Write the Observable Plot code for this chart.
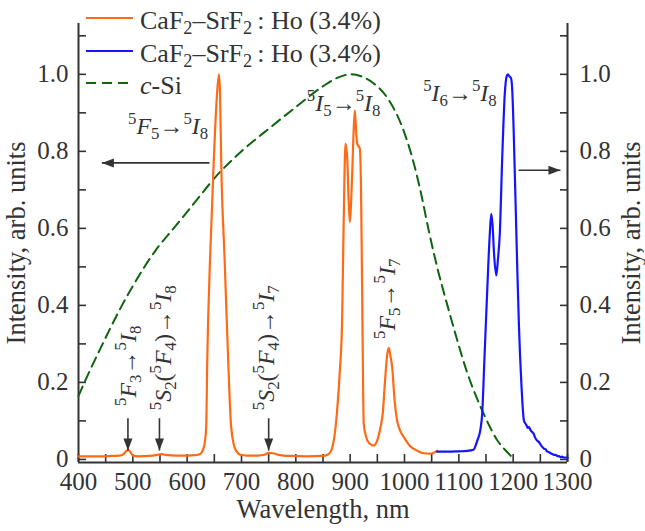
<!DOCTYPE html>
<html>
<head>
<meta charset="utf-8">
<script src="https://cdn.jsdelivr.net/npm/d3@7"></script>
<script src="https://cdn.jsdelivr.net/npm/@observablehq/plot@0.6"></script>
<style>
  body { margin: 0; background: #fff; }
  #chart { position: relative; width: 645px; height: 531px; font-family: "Liberation Serif", "DejaVu Serif", serif; color: #333; }
  #chart svg { display: block; }
  .legend-row { position: absolute; left: 86px; height: 32px; display: flex; align-items: center; font-size: 26px; line-height: 32px; white-space: nowrap; color: #333; }
  .legend-row .lbl { position: relative; top: 3px; margin-left: 7px; }
  .legend-row sub { font-size: 70%; vertical-align: -0.28em; line-height: 0; }
  .legend-row i { font-style: italic; }
</style>
</head>
<body>
<div id="chart"></div>
<script>
// Luminescence of CaF2–SrF2:Ho (3.4%), visible / near-IR detector (wavelength in nm, normalized intensity)
const visNm = [400, 420, 440, 460, 475, 483, 488, 492, 496, 500, 510, 530, 545, 552, 560, 580, 600, 615, 624, 629,
  632, 635, 637, 642, 649, 655, 658.5, 660.5, 662.6, 669, 675.5, 681, 689, 698, 710, 730, 742, 750, 758, 768,
  790, 820, 850, 858, 863, 867, 872, 876, 881, 885, 888, 891.4, 894.5, 897, 899.4, 901.5, 903.7, 906, 908.6, 911,
  913, 917.8, 920, 922, 925, 929, 935, 943.5, 950, 955.9, 960, 964, 968, 971, 974, 977.3, 982, 986.5, 992, 998.8,
  1010, 1023, 1035, 1048, 1060];
const visI = [0.008, 0.008, 0.008, 0.009, 0.010, 0.014, 0.022, 0.024, 0.018, 0.010, 0.008, 0.009, 0.012, 0.014, 0.012, 0.010, 0.010, 0.011, 0.014, 0.025,
  0.04, 0.084, 0.257, 0.517, 0.777, 0.95, 1.0, 0.95, 0.777, 0.517, 0.257, 0.084, 0.025, 0.012, 0.010, 0.010, 0.012, 0.017, 0.016, 0.012,
  0.009, 0.008, 0.009, 0.012, 0.018, 0.03, 0.07, 0.127, 0.23, 0.35, 0.61, 0.82, 0.785, 0.68, 0.616, 0.66, 0.74, 0.84, 0.906, 0.85,
  0.82, 0.807, 0.7, 0.44, 0.093, 0.06, 0.042, 0.036, 0.05, 0.084, 0.12, 0.2, 0.27, 0.29, 0.27, 0.24, 0.15, 0.1, 0.075, 0.058,
  0.035, 0.023, 0.016, 0.015, 0.023];

// Same sample, InGaAs detector range
const nirNm = [1060, 1080, 1100, 1115, 1127, 1134, 1140, 1143, 1147, 1152, 1157, 1159.6, 1162, 1165, 1169, 1172, 1175.4, 1179.7, 1184.6, 1188,
  1190, 1193, 1196, 1198, 1201, 1204, 1207.5, 1210.7, 1215, 1219.8, 1224, 1227, 1229, 1232, 1235, 1238, 1240, 1244, 1248, 1252,
  1256.5, 1260, 1262, 1266, 1268.8, 1272, 1275, 1278, 1281, 1285, 1287, 1290, 1293, 1296, 1300];
const nirI = [0.02, 0.02, 0.021, 0.022, 0.025, 0.049, 0.08, 0.119, 0.257, 0.43, 0.586, 0.638, 0.61, 0.53, 0.478, 0.52, 0.586, 0.777, 0.95, 0.995,
  1.0, 0.995, 0.99, 0.967, 0.85, 0.69, 0.5, 0.343, 0.2, 0.101, 0.09, 0.082, 0.084, 0.076, 0.071, 0.066, 0.058, 0.049, 0.044, 0.035,
  0.028, 0.026, 0.021, 0.019, 0.016, 0.014, 0.012, 0.012, 0.009, 0.008, 0.006, 0.007, 0.005, 0.005, 0.004];

// Spectral response of a crystalline silicon cell
const siNm = [400, 420, 440, 460, 480, 500, 520, 542, 575, 600, 625, 650, 700, 753, 800, 851, 875, 900, 920,
  943, 968, 998, 1015, 1029, 1045, 1060, 1079, 1097, 1115, 1130, 1143, 1157, 1171, 1185, 1198];
const siR = [0.165, 0.228, 0.287, 0.345, 0.4, 0.45, 0.497, 0.543, 0.6, 0.643, 0.687, 0.73, 0.8, 0.862, 0.915, 0.97, 0.99, 1.0, 0.995,
  0.977, 0.94, 0.855, 0.78, 0.7, 0.592, 0.5, 0.4, 0.31, 0.227, 0.17, 0.127, 0.085, 0.049, 0.025, 0.006];

// Axis ticks and titles
const xTickLabels = [400, 500, 600, 700, 800, 900, 1000, 1100, 1200, 1300];
const xTickMarks = [400, 450, 500, 550, 600, 650, 700, 750, 800, 850, 900, 950, 1000, 1050, 1100, 1150, 1200, 1250, 1300];
const yTickLabels = [0, 0.2, 0.4, 0.6, 0.8, 1.0];
const yTickMarks = [0, 0.1, 0.2, 0.3, 0.4, 0.5, 0.6, 0.7, 0.8, 0.9, 1.0, 1.1];
const xDomain = [400, 1300];
const yDomain = [-0.008, 1.132];
const xTitle = "Wavelength, nm";
const yTitle = "Intensity, arb. units";

// Transition labels (^ superscript, _ subscript, *…* italic)
const noteText = ["^5*F*_5→^5*I*_8", "^5*I*_5→^5*I*_8", "^5*I*_6→^5*I*_8",
  "^5*F*_3→^5*I*_8", "^5*S*_2(^5*F*_4)→^5*I*_8", "^5*S*_2(^5*F*_4)→^5*I*_7", "^5*F*_5→^5*I*_7"];
const noteNm = [565, 888, 1102, 491, 557, 746, 968];
const noteY = [0.865, 0.925, 0.951, 0.243, 0.29, 0.29, 0.417];
const noteAngle = [0, 0, 0, -90, -90, -90, -90];

// Arrows: tails and tips
const arrowX1 = [641, 1210, 491, 549, 750];
const arrowY1 = [0.77, 0.751, 0.107, 0.107, 0.107];
const arrowX2 = [443, 1287, 491, 549, 750];
const arrowY2 = [0.77, 0.751, 0.023, 0.023, 0.023];
const arrowDir = [-90, 90, 180, 180, 180];

// Legend
const legendText = ["CaF_2–SrF_2\u2009: Ho (3.4%)", "CaF_2–SrF_2\u2009: Ho (3.4%)", "*c*-Si"];
const legendColor = ["#ff6a14", "#1414ff", "#0d650d"];
const legendDash = [null, null, "10,6"];

const vis = visNm.map((x, i) => ({x, y: visI[i]}));
const nir = nirNm.map((x, i) => ({x, y: nirI[i]}));
const si = siNm.map((x, i) => ({x, y: siR[i]}));
const notes = noteText.map((t, i) => ({t, x: noteNm[i], y: noteY[i], a: noteAngle[i]}));
const arrows = arrowX1.map((x1, i) => ({x1, y1: arrowY1[i], x2: arrowX2[i], y2: arrowY2[i], r: arrowDir[i]}));

// Filled arrowhead, tip at the origin, pointing up
const arrowHead = {
  draw(ctx) {
    ctx.moveTo(0, 0);
    ctx.lineTo(-4.5, 12);
    ctx.lineTo(4.5, 12);
    ctx.closePath();
  }
};

const ink = "#333";
const fontFamily = "'Liberation Serif', 'DejaVu Serif', serif";
const tickFont = 25;
const titleFont = 26.5;
const noteFont = 24;
const fmtY = d => d === 0 ? "0" : d.toFixed(1);

const plot = Plot.plot({
  width: 645,
  height: 531,
  marginLeft: 78,
  marginRight: 78,
  marginTop: 23,
  marginBottom: 69,
  x: {domain: xDomain},
  y: {domain: yDomain},
  style: {fontFamily, fontSize: tickFont + "px", color: ink, background: "#fff"},
  marks: [
    // inward tick marks
    Plot.axisX({ticks: xTickMarks, tickSize: 8, dy: -8, fill: "none", label: null, stroke: ink, strokeWidth: 1.6}),
    Plot.axisY({ticks: yTickMarks, anchor: "left", tickSize: 8, dx: 8, fill: "none", label: null, stroke: ink, strokeWidth: 1.6}),
    Plot.axisY({ticks: yTickMarks, anchor: "right", tickSize: 8, dx: -8, fill: "none", label: null, stroke: ink, strokeWidth: 1.6}),
    // tick labels
    Plot.axisX({ticks: xTickLabels, tickSize: 0, tickPadding: 10, fontSize: tickFont, tickFormat: d => String(d), label: null}),
    Plot.axisY({ticks: yTickLabels, anchor: "left", tickSize: 0, tickPadding: 10, fontSize: tickFont, tickFormat: fmtY, label: null}),
    Plot.axisY({ticks: yTickLabels, anchor: "right", tickSize: 0, tickPadding: 12, fontSize: tickFont, tickFormat: fmtY, label: null}),
    // axis titles
    Plot.text([xTitle], {frameAnchor: "bottom", dy: 47, fontSize: titleFont, fill: ink, textAnchor: "middle", lineAnchor: "middle"}),
    Plot.text([yTitle], {frameAnchor: "left", dx: -62, rotate: -90, fontSize: titleFont, fill: ink, textAnchor: "middle", lineAnchor: "middle"}),
    Plot.text([yTitle], {frameAnchor: "right", dx: 64, rotate: -90, fontSize: titleFont, fill: ink, textAnchor: "middle", lineAnchor: "middle"}),
    // axis lines
    Plot.ruleX([xDomain[0], xDomain[1]], {stroke: ink, strokeWidth: 2}),
    Plot.ruleY([yDomain[0]], {stroke: ink, strokeWidth: 2}),
    // spectra
    Plot.line(si, {x: "x", y: "y", stroke: legendColor[2], strokeWidth: 2, strokeDasharray: legendDash[2], curve: "monotone-x"}),
    Plot.line(vis, {x: "x", y: "y", stroke: legendColor[0], strokeWidth: 2.2, curve: "monotone-x"}),
    Plot.line(nir, {x: "x", y: "y", stroke: legendColor[1], strokeWidth: 2.2, curve: "monotone-x"}),
    // arrows
    Plot.link(arrows, {x1: "x1", y1: "y1", x2: "x2", y2: "y2", stroke: ink, strokeWidth: 1.6}),
    Plot.dot(arrows, {x: "x2", y: "y2", symbol: arrowHead, rotate: "r", fill: ink, stroke: "none"}),
    // transition labels
    Plot.text(notes, {x: "x", y: "y", text: "t", rotate: "a", fontSize: noteFont, fill: ink, textAnchor: "middle", lineAnchor: "middle"})
  ]
});

// Turn ^, _ and *…* markup into tspans
function parseMarkup(s) {
  const out = [];
  let italic = false;
  for (let i = 0; i < s.length; i++) {
    const c = s[i];
    if (c === "*") { italic = !italic; continue; }
    if (c === "^" || c === "_") { out.push({t: s[++i], pos: c === "^" ? "sup" : "sub", italic: false}); continue; }
    const last = out[out.length - 1];
    if (last && last.pos === "base" && last.italic === italic) last.t += c;
    else out.push({t: c, pos: "base", italic});
  }
  return out;
}

const SVGNS = "http://www.w3.org/2000/svg";
plot.querySelectorAll("text").forEach(el => {
  const src = el.textContent;
  if (!/[\^_*]/.test(src)) return;
  const size = noteFont;
  el.textContent = "";
  for (const s of parseMarkup(src)) {
    const t = document.createElementNS(SVGNS, "tspan");
    t.textContent = s.t;
    if (s.italic) t.setAttribute("font-style", "italic");
    if (s.pos !== "base") {
      t.setAttribute("font-size", (size * 0.7).toFixed(1));
      t.setAttribute("style", `baseline-shift:${s.pos === "sup" ? (size * 0.42).toFixed(1) : (-size * 0.22).toFixed(1)}px`);
    }
    el.appendChild(t);
  }
});

const chart = document.getElementById("chart");
chart.appendChild(plot);

// Legend drawn over the upper-left corner
function markupToHtml(s) {
  return parseMarkup(s).map(p => {
    const txt = p.t.replace(/&/g, "&amp;").replace(/</g, "&lt;");
    if (p.pos === "sub") return `<sub>${txt}</sub>`;
    if (p.pos === "sup") return `<sup>${txt}</sup>`;
    return p.italic ? `<i>${txt}</i>` : txt;
  }).join("");
}
const legendTops = [2, 35, 67];
legendText.forEach((t, i) => {
  const row = document.createElement("div");
  row.className = "legend-row";
  row.style.top = legendTops[i] + "px";
  row.innerHTML = `<svg width="47" height="32"><line x1="0" x2="47" y1="16" y2="16" stroke="${legendColor[i]}" stroke-width="2.2"${legendDash[i] ? ` stroke-dasharray="${legendDash[i]}"` : ""}/></svg><span class="lbl">${markupToHtml(t)}</span>`;
  chart.appendChild(row);
});
</script>
</body>
</html>
